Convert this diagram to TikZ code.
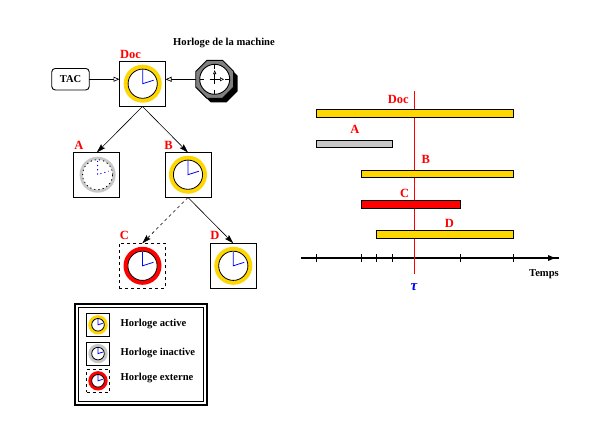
\documentclass[tikz,border=0pt]{standalone}
\usepackage{fontspec}
\setmainfont{Liberation Serif}
\usetikzlibrary{arrows.meta,shapes.geometric}
\definecolor{gold}{HTML}{FFD700}
\definecolor{inact}{HTML}{C8C8C8}
\tikzset{
  clockbox/.style={draw=black,line width=0.9pt,fill=white,minimum width=46pt,minimum height=45pt,inner sep=0,outer sep=0},
  smallbox/.style={draw=black,line width=0.9pt,fill=white,minimum width=23pt,minimum height=23pt,inner sep=0,outer sep=0},
  redlab/.style={text=red,font=\bfseries\fontsize{12.5}{12.5}\selectfont,inner sep=0},
  blacklab/.style={text=black,font=\bfseries\fontsize{10.6}{10.6}\selectfont,inner sep=0},
  link/.style={draw=black,line width=0.6pt,-{Stealth[length=9pt,width=5.5pt,inset=1.5pt]}},
  openlink/.style={draw=black,line width=0.7pt,-{Triangle[open,length=6pt,width=5pt,fill=white]}},
  bar/.style={draw=black,line width=0.9pt},
  tick/.style={draw=black,line width=0.7pt},
  dotted ring/.style={dash pattern=on 1.2pt off 3pt}
}
% clock: centre, ring colour, ring radius, face radius, hand style
\newcommand{\clk}[5]{%
  \begin{scope}[shift={(#1)}]
    \fill[#2] (0,0) circle[radius=#3pt];
    \draw[black,fill=white,line width=0.8pt,#5] (0,0) circle[radius=#4pt];
    \draw[blue,line width=0.8pt,#5] (0,-0.93*#4) -- (0,0) -- (0.75*#4,-0.24*#4);
  \end{scope}}
\begin{document}
\begin{tikzpicture}[x=1pt,y=-1pt]
\useasboundingbox (0,0) rectangle (612,444);
\fill[white] (0,0) rectangle (612,444);

% clock tree
\node[clockbox] (doc) at (142.5,84) {};
\node[clockbox] (a) at (96.8,175) {};
\node[clockbox] (b) at (188,175) {};
\node[clockbox,dashed] (c) at (142.3,265.8) {};
\node[clockbox] (d) at (233.3,265.8) {};
\clk{142.7,83.7}{gold}{19}{14.6}{}
\clk{97.6,174.7}{inact}{18}{15}{dotted ring}
\clk{188,174.7}{gold}{19}{14.6}{}
\clk{142.5,265.8}{red}{19}{14.6}{}
\clk{233.3,265.8}{gold}{19}{14.6}{}

\node[redlab] (ldoc) at (130.5,54) {Doc};
\node[redlab] (la) at (79,145) {A};
\node[redlab] (lb) at (168.5,145) {B};
\node[redlab] (lc) at (124.5,235) {C};
\node[redlab] (ld) at (215,235) {D};

% TAC
\node[draw=black,line width=0.9pt,rounded corners=3.5pt,minimum width=37.5pt,minimum height=21.5pt,inner sep=0,outer sep=0,font=\bfseries\fontsize{10.5}{10.5}\selectfont] (tac) at (70.5,79.2) {TAC};

% machine clock
\node[regular polygon,regular polygon sides=8,fill=black,minimum size=41pt,inner sep=0,outer sep=0] (shadow) at (218.7,83.5) {};
\node[regular polygon,regular polygon sides=8,draw=black,fill=black!50,line width=0.9pt,minimum size=41pt,inner sep=0,outer sep=0] (mach) at (214.7,79.3) {};
\draw[black,fill=white,line width=0.9pt] (mach.center) circle[radius=15pt];
\draw[black,line width=0.6pt] (199.7,79.3) -- (204,79.3) (225.4,79.3) -- (229.7,79.3) (214.7,64.3) -- (214.7,68.5) (214.7,90) -- (214.7,94.3) (209.7,79.3) -- (214.7,79.3) (214.7,79.3) -- (214.7,84);
\draw[black,line width=0.6pt,-{Triangle[open,length=4pt,width=4pt]}] (214.7,79.3) -- (224,79.3);
\draw[black,line width=0.6pt,-{Triangle[open,length=4pt,width=3pt]}] (214.7,79.3) -- (214.7,70);
\node[blacklab] (lmach) at (224,42.5) {Horloge de la machine};

\draw[openlink] (tac.east) -- (doc.west |- tac.east);
\draw[openlink] (mach.west) -- (doc.east |- mach.west);
\draw[link] (doc.south) -- (a.north);
\draw[link] (doc.south) -- (b.north);
\draw[link,dash pattern=on 3pt off 3pt] (b.south) -- (c.north);
\draw[link] (b.south) -- (d.north);

% legend
\draw[black,line width=2pt] (75,303.7) rectangle (207,405);
\draw[black,line width=1pt] (78.6,307.3) rectangle (203.4,401.5);
\node[smallbox] (k1) at (98,324.8) {};
\node[smallbox] (k2) at (98,353.6) {};
\node[smallbox,dashed] (k3) at (98,380.8) {};
\clk{98,324.8}{gold}{9.7}{6.3}{}
\clk{98,353.6}{inact}{9.7}{6.3}{}
\clk{98,380.8}{red}{9.7}{6.3}{}
\node[blacklab,anchor=west] (t1) at (120.5,324) {Horloge active};
\node[blacklab,anchor=west] (t2) at (120.5,352.5) {Horloge inactive};
\node[blacklab,anchor=west] (t3) at (120.5,377.5) {Horloge externe};

% timeline
\coordinate (tau1) at (414.3,91);
\coordinate (tau2) at (414.3,273.7);
\draw[red,line width=0.9pt] (tau1) -- (tau2);
\draw[bar,fill=gold] (316.3,109.3) rectangle (513.7,117.3);
\draw[bar,fill=inact] (316.3,140.3) rectangle (392.3,147.3);
\draw[bar,fill=gold] (361.3,170.3) rectangle (513.7,177.3);
\draw[bar,fill=red] (361.3,200.3) rectangle (460.7,208.3);
\draw[bar,fill=gold] (376.3,230.3) rectangle (513.7,238.3);
\node[redlab] (tdoc) at (398.3,99) {Doc};
\node[redlab] (ta) at (355,129) {A};
\node[redlab] (tb) at (425.7,159.3) {B};
\node[redlab] (tc) at (404.7,193) {C};
\node[redlab] (td) at (449.3,223) {D};

\coordinate (ax1) at (301,258);
\coordinate (ax2) at (559,258);
\draw[black,line width=1.4pt] (ax1) -- (ax2);
\fill[black] (548,255) -- (555,258) -- (548,261) -- cycle;
\foreach \x in {316.3,361.3,376.3,392.3,460.7,513.7} \draw[tick] (\x,254.3) -- (\x,261.7);
\draw[red,line width=0.9pt] (414.3,254) -- (414.3,262);
\node[blacklab] (ttemps) at (544,274) {Temps};
\node[text=blue,inner sep=0,font=\bfseries\itshape\fontsize{15}{15}\selectfont] (ltau) at (414,287) {τ};
\end{tikzpicture}
\end{document}
